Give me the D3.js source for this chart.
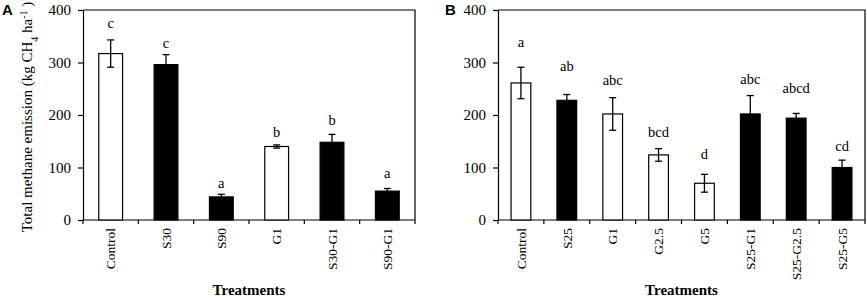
<!DOCTYPE html>
<html>
<head>
<meta charset="utf-8">
<script src="https://cdn.jsdelivr.net/npm/d3@7"></script>
<style>
  body { margin: 0; background: #fff; }
  svg text { font-family: "Liberation Serif", "Times New Roman", serif; fill: #000; }
  .axis path, .axis line { stroke: #000; stroke-width: 1.2; }
  .axis text { font-size: 15px; }
  .x-axis text { font-size: 13.5px; }
  .panel-tag { font-family: "Liberation Sans", Arial, sans-serif !important; font-weight: bold; font-size: 15px; }
</style>
</head>
<body>
<div id="chart"></div>
<script>
// ---- data ----
var yTicks = [0, 100, 200, 300, 400];

// panel A
var treatmentsA = ["Control", "S30", "S90", "G1", "S30-G1", "S90-G1"];
var meansA = [317, 296, 44, 140, 148, 55];
var errorsA = [26, 19, 5, 3, 15, 5];
var lettersA = ["c", "c", "a", "b", "b", "a"];
var letterAtA = [375, 337, 70, 168, 190, 89];
var filledA = [false, true, true, false, true, true];

// panel B
var treatmentsB = ["Control", "S25", "G1", "G2.5", "G5", "S25-G1", "S25-G2.5", "S25-G5"];
var meansB = [261, 228, 202, 124, 70, 202, 194, 100];
var errorsB = [30, 11, 31, 12, 17, 35, 9, 14];
var lettersB = ["a", "ab", "abc", "bcd", "d", "abc", "abcd", "cd"];
var letterAtB = [340, 293, 267, 168, 126, 269, 251, 141];
var filledB = [false, true, false, false, false, true, true, true];

var svg = d3.select("#chart").append("svg")
    .attr("width", 867)
    .attr("height", 298);

function drawPanel(tag, left, right, names, means, errors, letters, letterAt, filled, showTitle) {
    var top = 10, bottom = 220;

    var data = names.map(function(n, i) {
        return { name: n, mean: means[i], err: errors[i], letter: letters[i], at: letterAt[i], filled: filled[i] };
    });

    var x = d3.scaleBand().domain(names).range([left, right]);
    var y = d3.scaleLinear().domain([0, 400]).range([bottom, top]);

    var g = svg.append("g");

    // frame (top + right)
    g.append("path")
        .attr("d", "M" + left + "," + top + "H" + right + "V" + bottom)
        .attr("fill", "none")
        .attr("stroke", "#000")
        .attr("stroke-width", 1.2);

    // y axis
    g.append("g")
        .attr("class", "axis y-axis")
        .attr("transform", "translate(" + left + ",0)")
        .call(d3.axisLeft(y).tickValues(yTicks).tickSize(5).tickPadding(7).tickSizeOuter(0));

    // x axis: ticks at band boundaries
    var xAxisG = g.append("g")
        .attr("class", "axis x-axis")
        .attr("transform", "translate(0," + bottom + ")");
    xAxisG.append("line")
        .attr("x1", left).attr("x2", right)
        .attr("stroke", "#000").attr("stroke-width", 1.2);
    var bounds = names.map(function(n) { return x(n); }).concat([right]);
    xAxisG.selectAll(".bound").data(bounds).enter().append("line")
        .attr("class", "bound")
        .attr("x1", function(d) { return d; })
        .attr("x2", function(d) { return d; })
        .attr("y1", 0).attr("y2", 4)
        .attr("stroke", "#000").attr("stroke-width", 1.2);
    xAxisG.selectAll(".cat").data(names).enter().append("text")
        .attr("class", "cat")
        .attr("transform", function(d) {
            return "translate(" + (x(d) + x.bandwidth() / 2) + ",8) rotate(-90)";
        })
        .attr("dy", "0.35em")
        .style("text-anchor", "end")
        .text(function(d) { return d; });

    var bw = x.bandwidth() * 0.43;

    // bars
    g.selectAll(".bar").data(data).enter().append("rect")
        .attr("class", "bar")
        .attr("x", function(d) { return x(d.name) + (x.bandwidth() - bw) / 2; })
        .attr("y", function(d) { return y(d.mean); })
        .attr("width", bw)
        .attr("height", function(d) { return y(0) - y(d.mean); })
        .attr("fill", function(d) { return d.filled ? "#000" : "#fff"; })
        .attr("stroke", "#000")
        .attr("stroke-width", 1.2);

    // error bars
    var eb = g.selectAll(".err").data(data).enter().append("g").attr("class", "err")
        .attr("stroke", "#000").attr("stroke-width", 1.3);
    eb.append("line")
        .attr("x1", function(d) { return x(d.name) + x.bandwidth() / 2; })
        .attr("x2", function(d) { return x(d.name) + x.bandwidth() / 2; })
        .attr("y1", function(d) { return y(d.mean - d.err); })
        .attr("y2", function(d) { return y(d.mean + d.err); });
    eb.append("line")
        .attr("x1", function(d) { return x(d.name) + x.bandwidth() / 2 - 3.5; })
        .attr("x2", function(d) { return x(d.name) + x.bandwidth() / 2 + 3.5; })
        .attr("y1", function(d) { return y(d.mean + d.err); })
        .attr("y2", function(d) { return y(d.mean + d.err); });
    eb.append("line")
        .attr("x1", function(d) { return x(d.name) + x.bandwidth() / 2 - 3.5; })
        .attr("x2", function(d) { return x(d.name) + x.bandwidth() / 2 + 3.5; })
        .attr("y1", function(d) { return y(d.mean - d.err); })
        .attr("y2", function(d) { return y(d.mean - d.err); });

    // significance letters
    g.selectAll(".letter").data(data).enter().append("text")
        .attr("class", "letter")
        .attr("x", function(d) { return x(d.name) + x.bandwidth() / 2; })
        .attr("y", function(d) { return y(d.at); })
        .attr("dy", "0.35em")
        .style("text-anchor", "middle")
        .style("font-size", "14.5px")
        .text(function(d) { return d.letter; });

    // x title
    g.append("text")
        .attr("x", (left + right) / 2)
        .attr("y", 295)
        .style("text-anchor", "middle")
        .style("font-weight", "bold")
        .style("font-size", "15px")
        .text("Treatments");

    // panel tag
    g.append("text")
        .attr("class", "panel-tag")
        .attr("x", tag === "A" ? 2 : 445)
        .attr("y", 15)
        .text(tag);

    if (showTitle) {
        var t = g.append("text")
            .attr("transform", "translate(32," + ((top + bottom) / 2 + 2) + ") rotate(-90)")
            .style("text-anchor", "middle")
            .style("font-size", "15px");
        t.append("tspan").text("Total  methane emission (kg CH");
        t.append("tspan").attr("baseline-shift", "sub").style("font-size", "10px").text("4");
        t.append("tspan").text(" ha");
        t.append("tspan").attr("baseline-shift", "super").style("font-size", "10px").text("-1");
        t.append("tspan").text(" )");
    }
}

drawPanel("A", 83, 415, treatmentsA, meansA, errorsA, lettersA, letterAtA, filledA, true);
drawPanel("B", 498, 865, treatmentsB, meansB, errorsB, lettersB, letterAtB, filledB, false);
</script>
</body>
</html>
